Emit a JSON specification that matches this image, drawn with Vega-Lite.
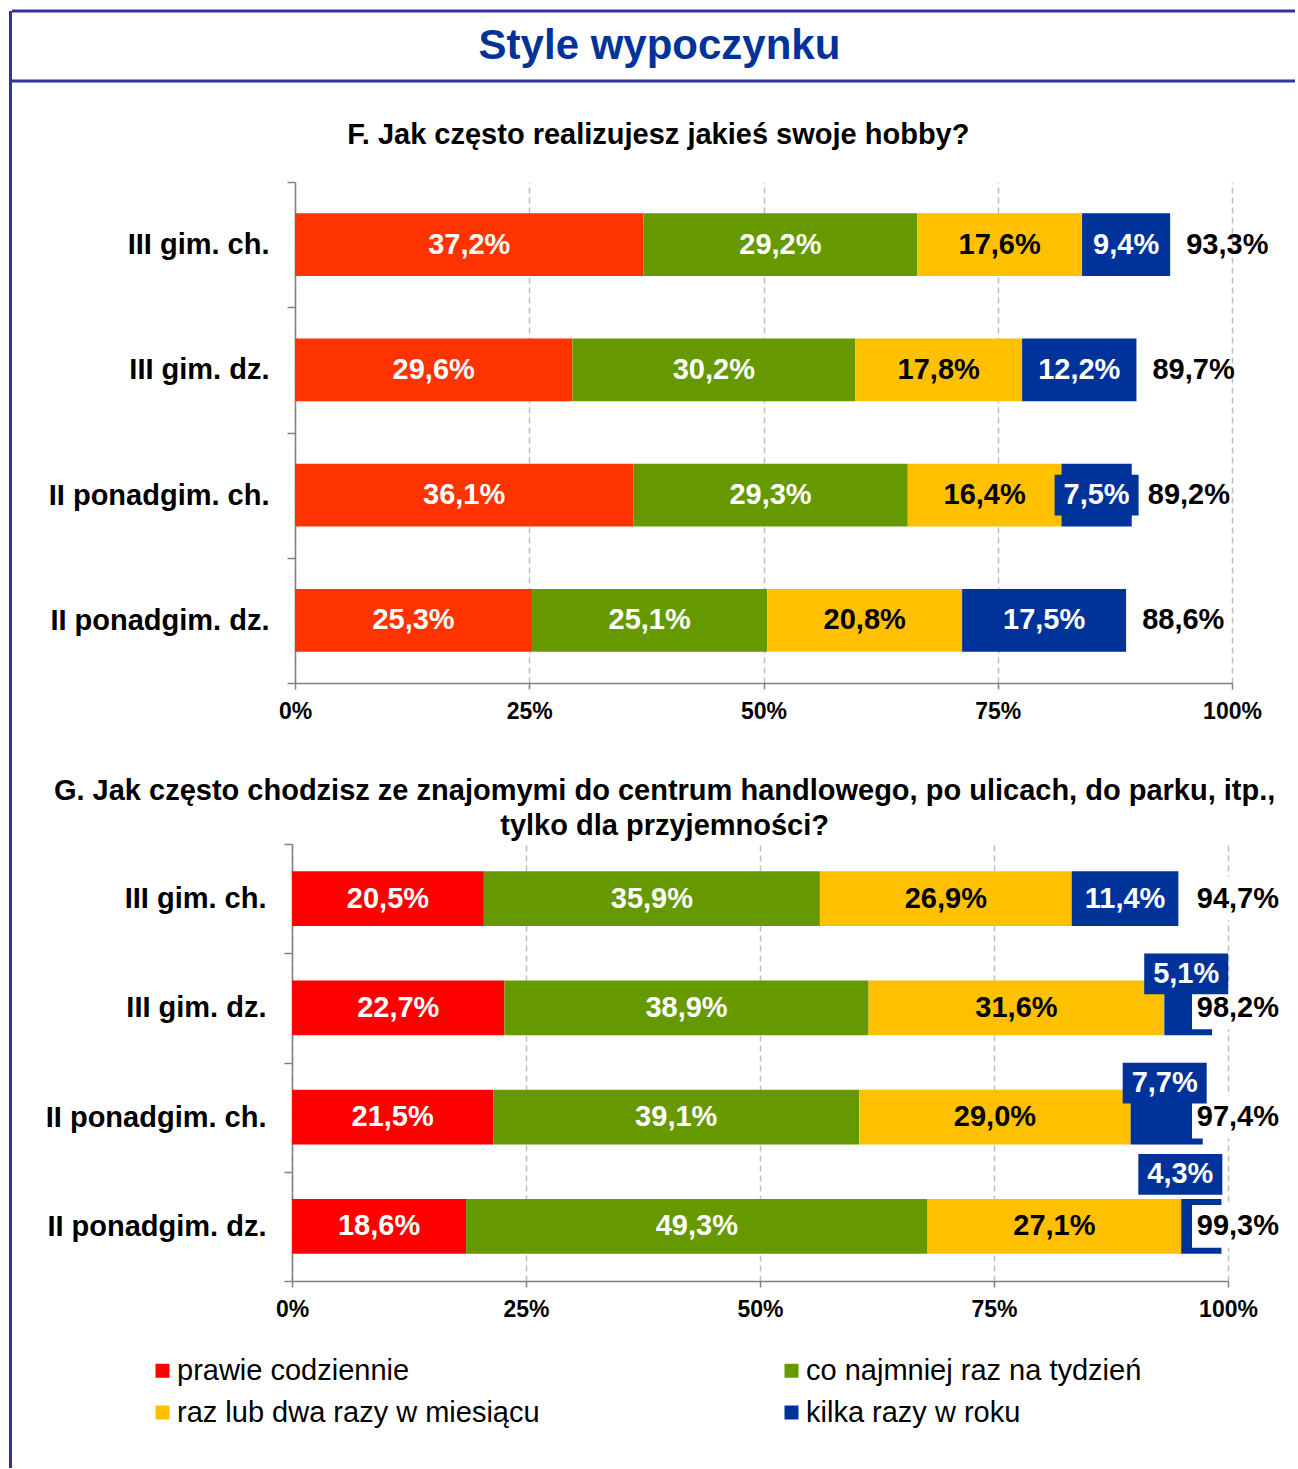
{
  "$schema": "https://vega.github.io/schema/vega-lite/v6.json",
  "autosize": {"type": "pad"},
  "padding": {"left": 9, "top": 9, "right": 0, "bottom": 0},
  "background": "white",
  "config": {
    "font": "Liberation Sans",
    "view": {"stroke": null},
    "locale": {"number": {"decimal": ",", "thousands": " ", "grouping": [3], "currency": ["", " zł"]}},
    "axisX": {"grid": true, "gridDash": [6, 4], "gridColor": "#BFBFBF", "gridWidth": 1.5, "domainColor": "#808080", "domainWidth": 1.5, "tickColor": "#808080", "tickWidth": 1.5, "tickSize": 6, "labelFontSize": 23, "labelFontWeight": "bold", "labelColor": "black", "labelPadding": 11, "labelFlush": false, "labelOverlap": false, "title": null},
    "axisY": {"grid": false, "tickBand": "extent", "domainColor": "#808080", "domainWidth": 1.5, "tickColor": "#808080", "tickWidth": 1.5, "tickSize": 8, "labelFontSize": 29, "labelFontWeight": "bold", "labelColor": "black", "labelPadding": 18, "labelLimit": 0, "title": null}
  },
  "datasets": {
    "F": [
      {"group": "III gim. ch.", "cat": "prawie codziennie", "k": 1, "v": 0.372},
      {"group": "III gim. ch.", "cat": "co najmniej raz na tydzień", "k": 2, "v": 0.292},
      {"group": "III gim. ch.", "cat": "raz lub dwa razy w miesiącu", "k": 3, "v": 0.176},
      {"group": "III gim. ch.", "cat": "kilka razy w roku", "k": 4, "v": 0.094},
      {"group": "III gim. dz.", "cat": "prawie codziennie", "k": 1, "v": 0.296},
      {"group": "III gim. dz.", "cat": "co najmniej raz na tydzień", "k": 2, "v": 0.302},
      {"group": "III gim. dz.", "cat": "raz lub dwa razy w miesiącu", "k": 3, "v": 0.178},
      {"group": "III gim. dz.", "cat": "kilka razy w roku", "k": 4, "v": 0.122},
      {"group": "II ponadgim. ch.", "cat": "prawie codziennie", "k": 1, "v": 0.361},
      {"group": "II ponadgim. ch.", "cat": "co najmniej raz na tydzień", "k": 2, "v": 0.293},
      {"group": "II ponadgim. ch.", "cat": "raz lub dwa razy w miesiącu", "k": 3, "v": 0.164},
      {"group": "II ponadgim. ch.", "cat": "kilka razy w roku", "k": 4, "v": 0.075},
      {"group": "II ponadgim. dz.", "cat": "prawie codziennie", "k": 1, "v": 0.253},
      {"group": "II ponadgim. dz.", "cat": "co najmniej raz na tydzień", "k": 2, "v": 0.251},
      {"group": "II ponadgim. dz.", "cat": "raz lub dwa razy w miesiącu", "k": 3, "v": 0.208},
      {"group": "II ponadgim. dz.", "cat": "kilka razy w roku", "k": 4, "v": 0.175}
    ],
    "FT": [
      {"group": "III gim. ch.", "total": 0.933},
      {"group": "III gim. dz.", "total": 0.897},
      {"group": "II ponadgim. ch.", "total": 0.892},
      {"group": "II ponadgim. dz.", "total": 0.886}
    ],
    "G": [
      {"group": "III gim. ch.", "cat": "prawie codziennie", "k": 1, "v": 0.205},
      {"group": "III gim. ch.", "cat": "co najmniej raz na tydzień", "k": 2, "v": 0.359},
      {"group": "III gim. ch.", "cat": "raz lub dwa razy w miesiącu", "k": 3, "v": 0.269},
      {"group": "III gim. ch.", "cat": "kilka razy w roku", "k": 4, "v": 0.114},
      {"group": "III gim. dz.", "cat": "prawie codziennie", "k": 1, "v": 0.227},
      {"group": "III gim. dz.", "cat": "co najmniej raz na tydzień", "k": 2, "v": 0.389},
      {"group": "III gim. dz.", "cat": "raz lub dwa razy w miesiącu", "k": 3, "v": 0.316},
      {"group": "III gim. dz.", "cat": "kilka razy w roku", "k": 4, "v": 0.051},
      {"group": "II ponadgim. ch.", "cat": "prawie codziennie", "k": 1, "v": 0.215},
      {"group": "II ponadgim. ch.", "cat": "co najmniej raz na tydzień", "k": 2, "v": 0.391},
      {"group": "II ponadgim. ch.", "cat": "raz lub dwa razy w miesiącu", "k": 3, "v": 0.290},
      {"group": "II ponadgim. ch.", "cat": "kilka razy w roku", "k": 4, "v": 0.077},
      {"group": "II ponadgim. dz.", "cat": "prawie codziennie", "k": 1, "v": 0.186},
      {"group": "II ponadgim. dz.", "cat": "co najmniej raz na tydzień", "k": 2, "v": 0.493},
      {"group": "II ponadgim. dz.", "cat": "raz lub dwa razy w miesiącu", "k": 3, "v": 0.271},
      {"group": "II ponadgim. dz.", "cat": "kilka razy w roku", "k": 4, "v": 0.043}
    ],
    "GT": [
      {"group": "III gim. ch.", "total": 0.947},
      {"group": "III gim. dz.", "total": 0.982},
      {"group": "II ponadgim. ch.", "total": 0.974},
      {"group": "II ponadgim. dz.", "total": 0.993}
    ]
  },
  "hconcat": [
    {
      "width": 3,
      "height": 1457,
      "view": {"fill": "#333399", "stroke": null},
      "data": {"values": [{}]},
      "mark": {"type": "point", "opacity": 0, "size": 0}
    },
    {
      "vconcat": [
        {
          "width": 1283,
          "height": 70,
          "data": {"values": [{"t": "Style wypoczynku"}]},
          "layer": [
            {"mark": {"type": "rule", "color": "#333399", "strokeWidth": 3}, "encoding": {"y": {"datum": 1, "type": "quantitative", "scale": {"domain": [0, 1]}, "axis": null}}},
            {"mark": {"type": "rule", "color": "#333399", "strokeWidth": 3}, "encoding": {"y": {"datum": 0, "type": "quantitative", "axis": null}}},
            {"mark": {"type": "text", "fontSize": 42, "fontWeight": "bold", "color": "#003399", "dx": 6, "baseline": "middle", "align": "center"}, "encoding": {"text": {"field": "t"}}}
          ]
        },
        {
          "vconcat": [
            {
              "hconcat": [
                {"width": 1, "height": 1, "data": {"values": [{}]}, "mark": {"type": "point", "opacity": 0, "size": 0}},
                {
                  "width": 937,
                  "height": 501,
                  "title": {"text": "F. Jak często realizujesz jakieś swoje hobby?", "fontSize": 29, "fontWeight": "bold", "color": "black", "anchor": "middle", "frame": "bounds", "offset": 18},
                  "encoding": {
                    "y": {"field": "group", "type": "nominal", "sort": ["III gim. ch.", "III gim. dz.", "II ponadgim. ch.", "II ponadgim. dz."], "scale": {"paddingInner": 0, "paddingOuter": 0}, "title": null}
                  },
                  "layer": [
                    {
                      "data": {"name": "F"},
                      "mark": {"type": "bar", "height": {"band": 0.5}},
                      "encoding": {
                        "x": {"field": "v", "type": "quantitative", "stack": "zero", "scale": {"domain": [0, 1], "nice": false}, "axis": {"values": [0, 0.25, 0.5, 0.75, 1], "format": ".0%"}},
                        "color": {"field": "cat", "type": "nominal", "scale": {"domain": ["prawie codziennie", "co najmniej raz na tydzień", "raz lub dwa razy w miesiącu", "kilka razy w roku"], "range": ["#FF3300", "#669900", "#FFC000", "#003399"]}, "legend": null},
                        "order": {"field": "k", "type": "quantitative"}
                      }
                    },
                    {
                      "data": {"name": "F"},
                      "mark": {"type": "point", "shape": "M-1,-0.488H1V0.488H-1Z", "size": 7056, "filled": true, "color": "#003399", "strokeWidth": 0},
                      "encoding": {
                        "x": {"field": "v", "type": "quantitative", "stack": "zero", "bandPosition": 0.5},
                        "detail": {"field": "cat"},
                        "order": {"field": "k", "type": "quantitative"},
                        "opacity": {"condition": {"test": "datum.k === 4", "value": 1}, "value": 0}
                      }
                    },
                    {
                      "data": {"name": "F"},
                      "mark": {"type": "text", "fontSize": 29, "fontWeight": "bold", "baseline": "middle", "align": "center"},
                      "encoding": {
                        "x": {"field": "v", "type": "quantitative", "stack": "zero", "bandPosition": 0.5},
                        "detail": {"field": "cat"},
                        "order": {"field": "k", "type": "quantitative"},
                        "text": {"field": "v", "type": "quantitative", "format": ".1%"},
                        "color": {"condition": {"test": "datum.k === 3", "value": "black"}, "value": "white"}
                      }
                    },
                    {
                      "data": {"name": "FT"},
                      "mark": {"type": "text", "align": "left", "dx": 17, "fontSize": 29, "fontWeight": "bold", "color": "black", "baseline": "middle"},
                      "encoding": {
                        "x": {"field": "total", "type": "quantitative"},
                        "text": {"field": "total", "type": "quantitative", "format": ".1%"}
                      }
                    }
                  ]
                }
              ],
              "spacing": 35
            },
            {
              "hconcat": [
                {"width": 1, "height": 1, "data": {"values": [{}]}, "mark": {"type": "point", "opacity": 0, "size": 0}},
                {
                  "width": 936,
                  "height": 437,
                  "title": {"text": ["G. Jak często chodzisz ze znajomymi do centrum handlowego, po ulicach, do parku, itp.,", "tylko dla przyjemności?"], "fontSize": 29, "fontWeight": "bold", "color": "black", "anchor": "middle", "frame": "bounds", "lineHeight": 35, "offset": -15},
                  "encoding": {
                    "y": {"field": "group", "type": "nominal", "sort": ["III gim. ch.", "III gim. dz.", "II ponadgim. ch.", "II ponadgim. dz."], "scale": {"paddingInner": 0, "paddingOuter": 0}, "title": null}
                  },
                  "layer": [
                    {
                      "data": {"name": "G"},
                      "mark": {"type": "bar", "height": {"band": 0.5}},
                      "encoding": {
                        "x": {"field": "v", "type": "quantitative", "stack": "zero", "scale": {"domain": [0, 1], "nice": false}, "axis": {"values": [0, 0.25, 0.5, 0.75, 1], "format": ".0%"}},
                        "color": {"field": "cat", "type": "nominal", "scale": {"domain": ["prawie codziennie", "co najmniej raz na tydzień", "raz lub dwa razy w miesiącu", "kilka razy w roku"], "range": ["#FF0000", "#669900", "#FFC000", "#003399"]},
                          "legend": {"orient": "none", "legendX": -144, "legendY": 512, "columns": 2, "direction": "horizontal", "symbolType": "square", "symbolSize": 196, "symbolStrokeWidth": 0, "symbolOpacity": 1, "labelFontSize": 29, "labelColor": "black", "labelOffset": 0, "labelLimit": 0, "columnPadding": 237, "rowPadding": 12, "padding": 0, "title": null}},
                        "order": {"field": "k", "type": "quantitative"}
                      }
                    },
                    {
                      "data": {"name": "GT"},
                      "mark": {"type": "point", "shape": "M-1,-0.467H1V0.467H-1Z", "size": 8464, "filled": true, "color": "white", "strokeWidth": 0, "opacity": 1, "xOffset": 10},
                      "encoding": {
                        "x": {"datum": 1, "type": "quantitative"}
                      }
                    },
                    {
                      "data": {"name": "G"},
                      "mark": {"type": "point", "shape": "M-1,-0.488H1V0.488H-1Z", "size": 7056, "filled": true, "color": "#003399", "strokeWidth": 0},
                      "encoding": {
                        "x": {"field": "v", "type": "quantitative", "stack": "zero", "bandPosition": 0.5},
                        "detail": {"field": "cat"},
                        "order": {"field": "k", "type": "quantitative"},
                        "opacity": {"condition": {"test": "datum.k === 4 && datum.v >= 0.08", "value": 1}, "value": 0}
                      }
                    },
                    {
                      "data": {"name": "G"},
                      "mark": {"type": "point", "shape": "M-1,-0.488H1V0.488H-1Z", "size": 7056, "filled": true, "color": "#003399", "strokeWidth": 0, "yOffset": -34, "xOffset": -2},
                      "encoding": {
                        "x": {"field": "v", "type": "quantitative", "stack": "zero", "bandPosition": 0.5},
                        "detail": {"field": "cat"},
                        "order": {"field": "k", "type": "quantitative"},
                        "opacity": {"condition": {"test": "datum.k === 4 && datum.v < 0.08 && datum.v >= 0.05", "value": 1}, "value": 0}
                      }
                    },
                    {
                      "data": {"name": "G"},
                      "mark": {"type": "point", "shape": "M-1,-0.488H1V0.488H-1Z", "size": 7056, "filled": true, "color": "#003399", "strokeWidth": 0, "yOffset": -52, "xOffset": -21},
                      "encoding": {
                        "x": {"field": "v", "type": "quantitative", "stack": "zero", "bandPosition": 0.5},
                        "detail": {"field": "cat"},
                        "order": {"field": "k", "type": "quantitative"},
                        "opacity": {"condition": {"test": "datum.k === 4 && datum.v < 0.05", "value": 1}, "value": 0}
                      }
                    },
                    {
                      "data": {"name": "G"},
                      "mark": {"type": "text", "fontSize": 29, "fontWeight": "bold", "baseline": "middle", "align": "center"},
                      "encoding": {
                        "x": {"field": "v", "type": "quantitative", "stack": "zero", "bandPosition": 0.5},
                        "detail": {"field": "cat"},
                        "order": {"field": "k", "type": "quantitative"},
                        "text": {"field": "v", "type": "quantitative", "format": ".1%"},
                        "color": {"condition": {"test": "datum.k === 3", "value": "black"}, "value": "white"},
                        "opacity": {"condition": {"test": "datum.k === 4 && datum.v < 0.08", "value": 0}, "value": 1}
                      }
                    },
                    {
                      "data": {"name": "G"},
                      "mark": {"type": "text", "fontSize": 29, "fontWeight": "bold", "baseline": "middle", "align": "center", "color": "white", "dy": -34, "dx": -2},
                      "encoding": {
                        "x": {"field": "v", "type": "quantitative", "stack": "zero", "bandPosition": 0.5},
                        "detail": {"field": "cat"},
                        "order": {"field": "k", "type": "quantitative"},
                        "text": {"field": "v", "type": "quantitative", "format": ".1%"},
                        "opacity": {"condition": {"test": "datum.k === 4 && datum.v < 0.08 && datum.v >= 0.05", "value": 1}, "value": 0}
                      }
                    },
                    {
                      "data": {"name": "G"},
                      "mark": {"type": "text", "fontSize": 29, "fontWeight": "bold", "baseline": "middle", "align": "center", "color": "white", "dy": -52, "dx": -21},
                      "encoding": {
                        "x": {"field": "v", "type": "quantitative", "stack": "zero", "bandPosition": 0.5},
                        "detail": {"field": "cat"},
                        "order": {"field": "k", "type": "quantitative"},
                        "text": {"field": "v", "type": "quantitative", "format": ".1%"},
                        "opacity": {"condition": {"test": "datum.k === 4 && datum.v < 0.05", "value": 1}, "value": 0}
                      }
                    },
                    {
                      "data": {"name": "GT"},
                      "mark": {"type": "text", "align": "right", "dx": 51, "fontSize": 29, "fontWeight": "bold", "color": "black", "baseline": "middle"},
                      "encoding": {
                        "x": {"datum": 1, "type": "quantitative"},
                        "text": {"field": "total", "type": "quantitative", "format": ".1%"}
                      }
                    }
                  ]
                }
              ],
              "spacing": 32,
              "resolve": {"scale": {"color": "independent"}, "legend": {"color": "independent"}}
            }
          ],
          "spacing": 54,
          "resolve": {"scale": {"color": "independent", "x": "independent", "y": "independent"}, "legend": {"color": "independent"}}
        }
      ],
      "spacing": 38
    }
  ],
  "spacing": -2
}
